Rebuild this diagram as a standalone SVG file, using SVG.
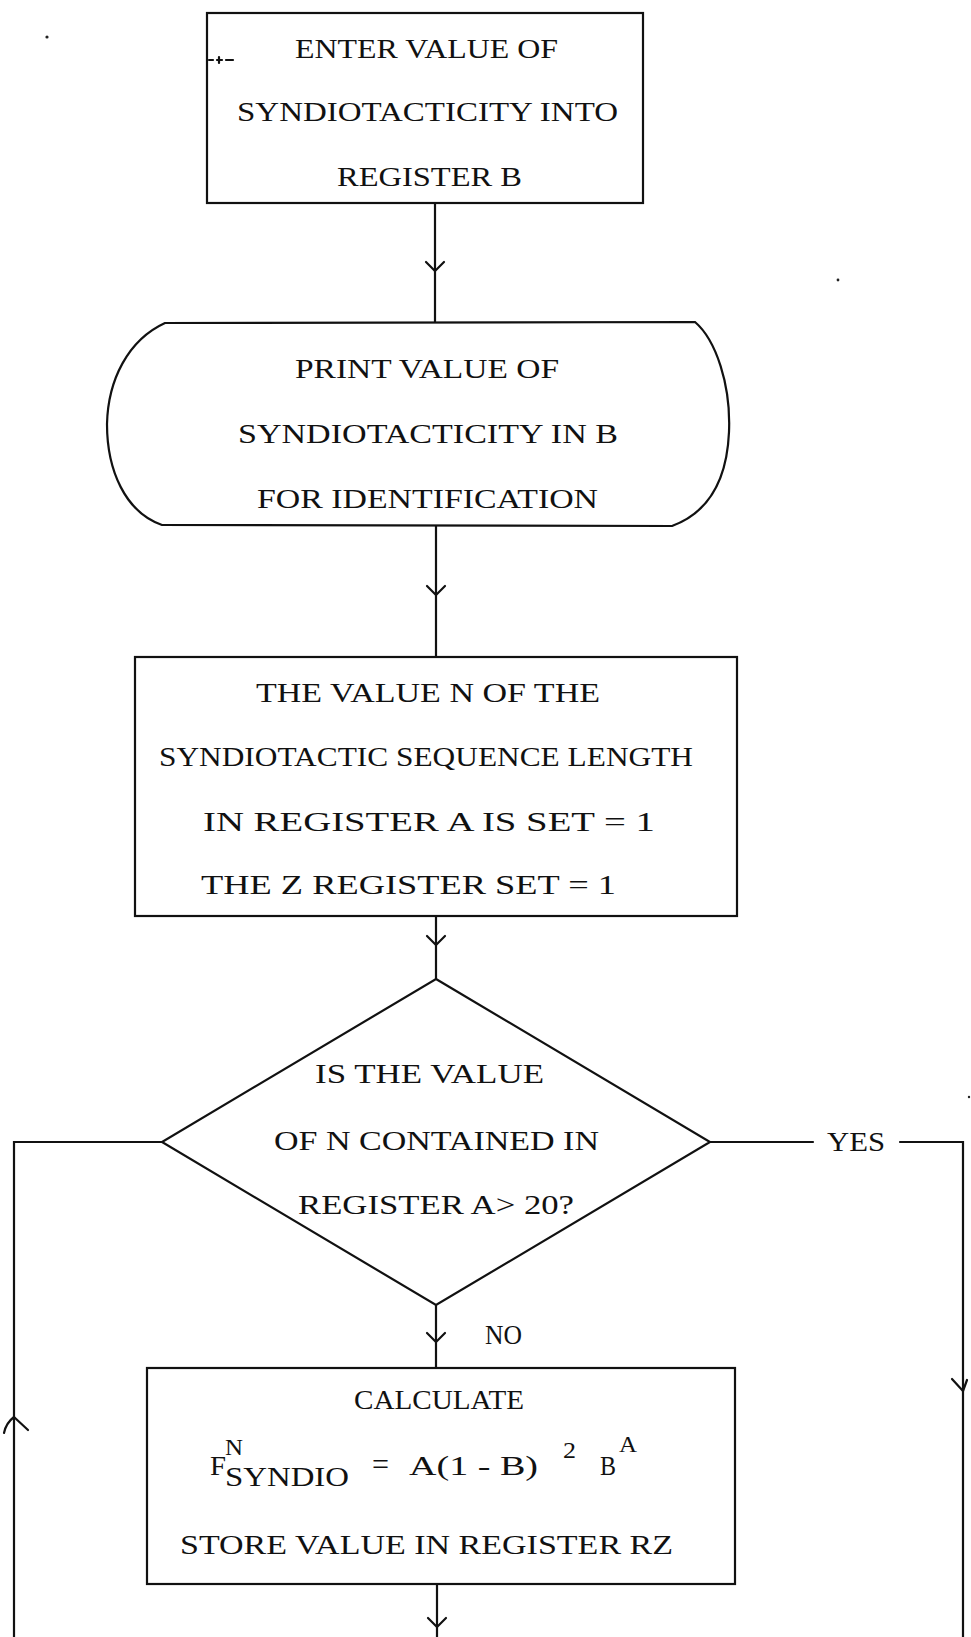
<svg xmlns="http://www.w3.org/2000/svg" width="971" height="1637" viewBox="0 0 971 1637">
  <style>
    .shape { fill: #fff; stroke: #111; stroke-width: 2.2; }
    .edge { fill: none; stroke: #111; stroke-width: 2.2; stroke-linecap: round; }
    .head { fill: none; stroke: #111; stroke-width: 2.2; stroke-linecap: round; stroke-linejoin: round; }
    .t { font-family: "Liberation Serif", "DejaVu Serif", serif; font-size: 27px; fill: #111; }
    .c { font-family: "Liberation Serif", "DejaVu Serif", serif; font-size: 27px; fill: #111; }
    .sm { font-family: "Liberation Serif", "DejaVu Serif", serif; font-size: 24px; fill: #111; }
    .eq { font-family: "Liberation Serif", "DejaVu Serif", serif; font-size: 32px; fill: #111; }
    .speck { fill: #222; }
  </style>

  <rect width="971" height="1637" fill="#fff"/>

  <!-- connectors: straight runs with open V heads part-way along -->
  <g id="connectors">
    <path class="edge" d="M435 203 V322"/>
    <path class="head" d="M426 262 L435 271 L444 262"/>

    <path class="edge" d="M436 526 V657"/>
    <path class="head" d="M427 586 L436 595 L445 586"/>

    <path class="edge" d="M436 916 V979"/>
    <path class="head" d="M427 936 L436 945 L445 936"/>

    <path class="edge" d="M436 1305 V1368"/>
    <path class="head" d="M427 1333 L436 1342 L445 1333"/>

    <path class="edge" d="M437 1584 V1637"/>
    <path class="head" d="M428 1618 L437 1627 L446 1618"/>

    <!-- NO branch: back up the left side -->
    <path class="edge" d="M162 1142 H14 V1637"/>
    <path class="head" d="M4 1433 Q6 1423 14 1417 L28 1430"/>

    <!-- YES branch: down the right side -->
    <path class="edge" d="M710 1142 H813"/>
    <path class="edge" d="M900 1142 H963 V1637"/>
    <path class="head" d="M952 1379 L963 1391 L967 1380"/>

    <text class="c" x="827" y="1151" textLength="58" lengthAdjust="spacingAndGlyphs">YES</text>
    <text class="c" x="485" y="1344" textLength="37" lengthAdjust="spacingAndGlyphs">NO</text>
  </g>

  <!-- entry: load syndiotacticity -->
  <g id="enter-value">
    <rect class="shape" x="207" y="13" width="436" height="190"/>
    <path class="edge" d="M209 60 H213 M217 60 H222 M219 57 V63 M226 60 H233" stroke-width="1.5"/>
    <text class="t" x="295" y="58" textLength="263" lengthAdjust="spacingAndGlyphs">ENTER VALUE OF</text>
    <text class="t" x="237" y="121" textLength="381" lengthAdjust="spacingAndGlyphs">SYNDIOTACTICITY INTO</text>
    <text class="t" x="337" y="186" textLength="185" lengthAdjust="spacingAndGlyphs">REGISTER B</text>
  </g>

  <!-- output terminal -->
  <g id="print-value">
    <path class="shape" d="M165 323 L695 322 C716 340 731 385 729 432 C727 478 710 512 672 526 L162 525 C125 512 107 470 107 424 C108 380 128 340 165 323 Z"/>
    <text class="t" x="295" y="378" textLength="264" lengthAdjust="spacingAndGlyphs">PRINT VALUE OF</text>
    <text class="t" x="238" y="443" textLength="380" lengthAdjust="spacingAndGlyphs">SYNDIOTACTICITY IN B</text>
    <text class="t" x="257" y="508" textLength="341" lengthAdjust="spacingAndGlyphs">FOR IDENTIFICATION</text>
  </g>

  <!-- initialise A and Z -->
  <g id="init-registers">
    <rect class="shape" x="135" y="657" width="602" height="259"/>
    <text class="t" x="256" y="702" textLength="344" lengthAdjust="spacingAndGlyphs">THE VALUE N OF THE</text>
    <text class="t" x="159" y="766" textLength="534" lengthAdjust="spacingAndGlyphs">SYNDIOTACTIC SEQUENCE LENGTH</text>
    <text class="t" x="203" y="831" textLength="452" lengthAdjust="spacingAndGlyphs">IN REGISTER A IS SET = 1</text>
    <text class="t" x="201" y="894" textLength="415" lengthAdjust="spacingAndGlyphs">THE Z REGISTER SET = 1</text>
  </g>

  <!-- limit test on N -->
  <g id="test-n">
    <polygon class="shape" points="436,979 710,1142 436,1305 162,1142"/>
    <text class="c" x="315" y="1083" textLength="229" lengthAdjust="spacingAndGlyphs">IS THE VALUE</text>
    <text class="c" x="274" y="1150" textLength="325" lengthAdjust="spacingAndGlyphs">OF N CONTAINED IN</text>
    <text class="c" x="298" y="1214" textLength="276" lengthAdjust="spacingAndGlyphs">REGISTER A&gt; 20?</text>
  </g>

  <!-- fraction computation -->
  <g id="calculate">
    <rect class="shape" x="147" y="1368" width="588" height="216"/>
    <text class="c" x="354" y="1409" textLength="170" lengthAdjust="spacingAndGlyphs">CALCULATE</text>
    <text class="c" x="210" y="1475" textLength="16" lengthAdjust="spacingAndGlyphs">F</text>
    <text class="sm" x="225" y="1455" textLength="18" lengthAdjust="spacingAndGlyphs">N</text>
    <text class="c" x="225" y="1486" textLength="124" lengthAdjust="spacingAndGlyphs">SYNDIO</text>
    <text class="eq" x="372" y="1475" textLength="17" lengthAdjust="spacingAndGlyphs">=</text>
    <text class="c" x="409" y="1475" textLength="129" lengthAdjust="spacingAndGlyphs">A(1 - B)</text>
    <text class="sm" x="563" y="1458" textLength="13" lengthAdjust="spacingAndGlyphs">2</text>
    <text class="c" x="600" y="1475" textLength="16" lengthAdjust="spacingAndGlyphs">B</text>
    <text class="sm" x="619" y="1452" textLength="18" lengthAdjust="spacingAndGlyphs">A</text>
    <text class="c" x="180" y="1554" textLength="493" lengthAdjust="spacingAndGlyphs">STORE VALUE IN REGISTER RZ</text>
  </g>

  <!-- stray marks on the sheet -->
  <circle class="speck" cx="47" cy="37" r="1.6"/>
  <circle class="speck" cx="838" cy="280" r="1.4"/>
  <circle class="speck" cx="969" cy="1097" r="1.2"/>
</svg>
